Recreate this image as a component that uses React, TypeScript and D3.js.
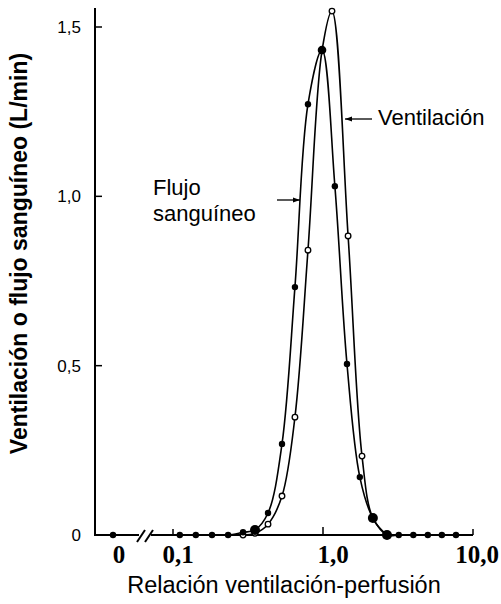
import React, { useEffect, useRef } from 'react';
import * as d3 from 'd3';

// Relación ventilación-perfusión (eje logarítmico) y valores en L/min
const flowRatio = [0.111, 0.142, 0.182, 0.233, 0.293, 0.352, 0.43, 0.533, 0.65, 0.794, 0.985, 1.2, 1.445, 1.76, 2.15, 2.67, 3.2, 4.0, 5.0, 6.2, 7.7];
const flowValue = [0, 0, 0, 0, 0.008, 0.015, 0.065, 0.269, 0.732, 1.272, 1.432, 1.03, 0.505, 0.171, 0.05, 0, 0, 0, 0, 0, 0];
const ventRatio = [0.293, 0.352, 0.43, 0.533, 0.65, 0.794, 0.985, 1.148, 1.47, 1.82, 2.15, 2.67];
const ventValue = [0, 0.005, 0.032, 0.115, 0.348, 0.841, 1.43, 1.547, 0.883, 0.233, 0.05, 0];
const zeroValue = 0; // punto con V/Q = 0, antes del corte del eje

const yTicks = [0, 0.5, 1.0, 1.5];
const yTickLabels = ['0', '0,5', '1,0', '1,5'];
const xTicks = [0.1, 1, 10];
const xTickLabels = ['0,1', '1,0', '10,0'];
const bigDots = [0.352, 2.15, 2.67];

const W = 501;
const H = 604;

const App = () => {
  const ref = useRef<SVGSVGElement>(null);

  useEffect(() => {
    const svg = d3.select(ref.current);
    svg.selectAll('*').remove();

    const x = d3.scaleLog().domain([0.1, 10]).range([173, 473]);
    const y = d3.scaleLinear().domain([0, 1.5]).range([535, 27]);
    const axisX = 95;
    const x0 = x(0.1) - 60; // posición de "0"
    const sans = 'Liberation Sans, Arial, sans-serif';
    const serif = 'Liberation Serif, Times New Roman, serif';

    // eje Y
    svg.append('line')
      .attr('x1', axisX).attr('x2', axisX)
      .attr('y1', y(0) + 1).attr('y2', y(1.556))
      .attr('stroke', '#000').attr('stroke-width', 2);

    svg.selectAll('.ytick')
      .data(yTicks.filter(d => d > 0))
      .enter().append('line')
      .attr('x1', axisX).attr('x2', axisX + 7)
      .attr('y1', d => y(d)).attr('y2', d => y(d))
      .attr('stroke', '#000').attr('stroke-width', 1.5);

    svg.selectAll('.ylab')
      .data(yTicks)
      .enter().append('text')
      .attr('x', 81)
      .attr('y', d => y(d))
      .attr('dy', '0.36em')
      .attr('text-anchor', 'end')
      .style('font-family', sans)
      .style('font-size', '17px')
      .text((d, i) => yTickLabels[i]);

    svg.append('text')
      .attr('transform', `translate(27,${(y(0) + y(1.556)) / 2 - 18}) rotate(-90)`)
      .attr('text-anchor', 'middle')
      .style('font-family', sans)
      .style('font-size', '23px')
      .style('font-weight', 'bold')
      .text('Ventilación o flujo sanguíneo (L/min)');

    // eje X con corte
    const y0 = y(0);
    svg.append('line')
      .attr('x1', axisX - 1).attr('x2', 139)
      .attr('y1', y0).attr('y2', y0)
      .attr('stroke', '#000').attr('stroke-width', 2);
    svg.append('line')
      .attr('x1', 151).attr('x2', x(10))
      .attr('y1', y0).attr('y2', y0)
      .attr('stroke', '#000').attr('stroke-width', 2);
    [141, 149].forEach(cx => {
      svg.append('line')
        .attr('x1', cx - 4).attr('x2', cx + 4)
        .attr('y1', y0 + 7).attr('y2', y0 - 5)
        .attr('stroke', '#000').attr('stroke-width', 2);
    });

    svg.selectAll('.xtick')
      .data(xTicks)
      .enter().append('line')
      .attr('x1', d => x(d)).attr('x2', d => x(d))
      .attr('y1', y0).attr('y2', (d, i) => y0 - (i === 1 ? 8 : 6))
      .attr('stroke', '#000').attr('stroke-width', 1.5);

    const labDx = [5, 10, 4];
    svg.append('text')
      .attr('x', x0 + 6).attr('y', 563)
      .attr('text-anchor', 'middle')
      .style('font-family', serif).style('font-weight', 'bold').style('font-size', '25px')
      .text('0');
    svg.selectAll('.xlab')
      .data(xTicks)
      .enter().append('text')
      .attr('x', (d, i) => x(d) + labDx[i])
      .attr('y', 563)
      .attr('text-anchor', 'middle')
      .style('font-family', serif).style('font-weight', 'bold').style('font-size', '25px')
      .text((d, i) => xTickLabels[i]);

    svg.append('text')
      .attr('x', 284).attr('y', 593)
      .attr('text-anchor', 'middle')
      .style('font-family', sans)
      .style('font-size', '23.5px')
      .text('Relación ventilación-perfusión');

    // curvas
    const line = d3.line<[number, number]>()
      .x(d => x(d[0]))
      .y(d => y(d[1]))
      .curve(d3.curveCatmullRom.alpha(0.5));

    const vent: [number, number][] = ventRatio.map((r, i) => [r, ventValue[i]]);
    const flow: [number, number][] = flowRatio.map((r, i) => [r, flowValue[i]]);

    svg.append('path')
      .attr('d', line(vent))
      .attr('fill', 'none').attr('stroke', '#000').attr('stroke-width', 1.6);
    svg.append('path')
      .attr('d', line(flow))
      .attr('fill', 'none').attr('stroke', '#000').attr('stroke-width', 1.6);

    svg.selectAll('.open')
      .data(vent)
      .enter().append('circle')
      .attr('cx', d => x(d[0])).attr('cy', d => y(d[1]))
      .attr('r', 2.8)
      .attr('fill', '#fff').attr('stroke', '#000').attr('stroke-width', 1.3);

    svg.append('circle')
      .attr('cx', x0).attr('cy', y(zeroValue)).attr('r', 3.2).attr('fill', '#000');

    svg.selectAll('.filled')
      .data(flow)
      .enter().append('circle')
      .attr('cx', d => x(d[0])).attr('cy', d => y(d[1]))
      .attr('r', d => bigDots.includes(d[0]) ? 5 : d[1] > 1.4 ? 4.3 : 3.2)
      .attr('fill', '#000');

    // rótulos con flechas
    const arrow = (xa: number, xb: number, yy: number) => {
      svg.append('line')
        .attr('x1', xa).attr('x2', xb).attr('y1', yy).attr('y2', yy)
        .attr('stroke', '#000').attr('stroke-width', 1.3);
      const dir = xb > xa ? 1 : -1;
      svg.append('path')
        .attr('d', `M${xb},${yy} L${xb - dir * 7},${yy - 2.5} L${xb - dir * 7},${yy + 2.5} Z`)
        .attr('fill', '#000');
    };
    arrow(372, 345, 119);
    arrow(277, 300, 200);

    svg.append('text')
      .attr('x', 378).attr('y', 125)
      .style('font-family', sans).style('font-size', '22px')
      .text('Ventilación');
    svg.append('text')
      .attr('x', 153).attr('y', 195)
      .style('font-family', sans).style('font-size', '22px')
      .text('Flujo');
    svg.append('text')
      .attr('x', 153).attr('y', 221)
      .style('font-family', sans).style('font-size', '22px')
      .text('sanguíneo');
  }, []);

  return (
    <svg ref={ref} width={W} height={H}
      style={{ position: 'absolute', left: 0, top: 0, background: '#fff' }} />
  );
};

export default App;
